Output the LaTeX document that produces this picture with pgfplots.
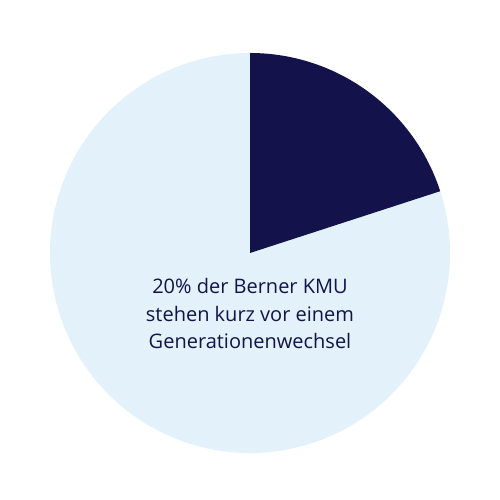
\documentclass[border=0pt]{standalone}
\usepackage{pgfplots}
\usepackage{pgfplotstable}
\usepackage{fontspec}
\setmainfont{Open Sans}
\pgfplotsset{compat=1.18}

\definecolor{navy}{HTML}{13124A}
\definecolor{pale}{HTML}{E3F2FA}

% share of Bernese SMEs facing a generational change
\pgfplotstableread{
part value
wechsel 20
rest 80
}\piedata

\begin{document}
\begin{tikzpicture}
\pgfplotstablegetelem{0}{value}\of\piedata
\pgfmathsetmacro{\cutangle}{90-3.6*\pgfplotsretval}
\pgfmathsetmacro{\cutx}{200*cos(\cutangle)}
\pgfmathsetmacro{\cuty}{200*sin(\cutangle)-3}
\useasboundingbox (0,0) rectangle (500pt,500pt);
\begin{axis}[
    at={(0,0)}, anchor=south west,
    width=500pt, height=500pt,
    scale only axis,
    xmin=-250, xmax=250,
    ymin=-250, ymax=250,
    hide axis,
    clip=false,
]
% light slice (rest)
\fill[pale] (axis cs:0,-3) -- (axis cs:\cutx,\cuty)
    arc[start angle=\cutangle, end angle=-270, radius=200pt] -- cycle;
% dark slice (20 %)
\fill[navy] (axis cs:0,-3) -- (axis cs:0,197)
    arc[start angle=90, end angle=\cutangle, radius=200pt] -- cycle;
\node[anchor=base, text=navy, font=\fontsize{20}{24}\selectfont] at (axis cs:0,-44) {20\% der Berner KMU};
\node[anchor=base, text=navy, font=\fontsize{20}{24}\selectfont] at (axis cs:0,-71.5) {stehen kurz vor einem};
\node[anchor=base, text=navy, font=\fontsize{20}{24}\selectfont] at (axis cs:0,-99) {Generationenwechsel};
\end{axis}
\end{tikzpicture}
\end{document}
